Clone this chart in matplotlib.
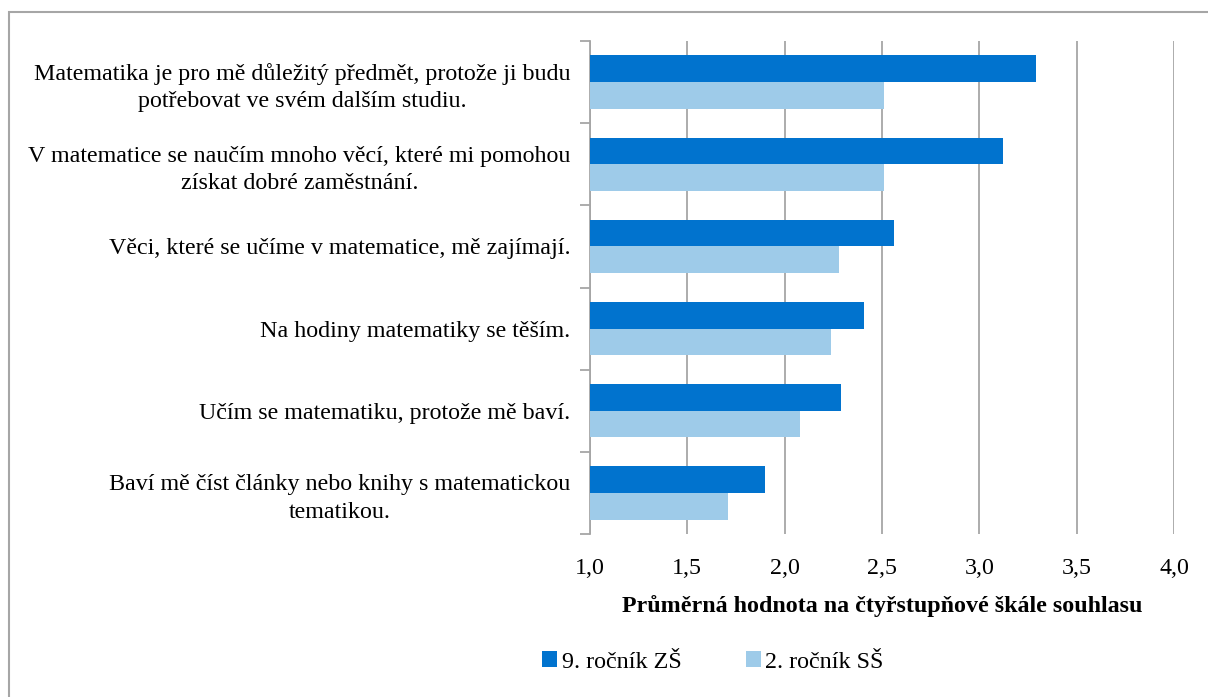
import matplotlib.pyplot as plt
from matplotlib.patches import Rectangle

# Survey statements (top to bottom) and mean agreement on a 1-4 scale
statements = [
    "Matematika je pro mě důležitý předmět, protože ji budu\npotřebovat ve svém dalším studiu.",
    "V matematice se naučím mnoho věcí, které mi pomohou\nzískat dobré zaměstnání.",
    "Věci, které se učíme v matematice, mě zajímají.",
    "Na hodiny matematiky se těším.",
    "Učím se matematiku, protože mě baví.",
    "Baví mě číst články nebo knihy s matematickou\ntematikou.",
]
zs9 = [3.29, 3.12, 2.56, 2.41, 2.29, 1.90]
ss2 = [2.51, 2.51, 2.28, 2.24, 2.08, 1.71]
series_names = ["9. ročník ZŠ", "2. ročník SŠ"]
x_ticks = [1.0, 1.5, 2.0, 2.5, 3.0, 3.5, 4.0]

dark = "#0173CE"
light = "#9ECBE9"
grey = "#A6A6A6"
fs = 17.3

plt.rcParams["font.family"] = ["Liberation Serif", "DejaVu Serif"]

fig = plt.figure(figsize=(12.08, 6.97), dpi=100)
ax = fig.add_axes([590 / 1208, 1 - 534 / 697, 584 / 1208, 493 / 697])

pos = list(range(len(statements)))
h = 0.325
b1 = ax.barh([p - h / 2 for p in pos], zs9, height=h, color=dark,
             label=series_names[0], zorder=3)
b2 = ax.barh([p + h / 2 for p in pos], ss2, height=h, color=light,
             label=series_names[1], zorder=3)

ax.set_xlim(1, 4)
ax.set_ylim(len(statements) - 0.5, -0.5)
ax.set_xticks(x_ticks)
ax.set_xticklabels([f"{t:.1f}".replace(".", ",") for t in x_ticks], fontsize=fs)
ax.tick_params(axis="x", length=0, pad=17)
ax.xaxis.grid(True, color=grey, linewidth=1.3, zorder=0)

ax.set_yticks(pos)
ax.set_yticklabels(statements, fontsize=fs, multialignment="center", linespacing=1.4)
ax.tick_params(axis="y", which="major", length=0, pad=14)
ax.set_yticks([p - 0.5 for p in pos] + [len(pos) - 0.5], minor=True)
ax.tick_params(axis="y", which="minor", length=7, width=1.3, color=grey)

for s in ["top", "right", "bottom"]:
    ax.spines[s].set_visible(False)
ax.spines["left"].set_color(grey)
ax.spines["left"].set_linewidth(1.3)

ax.set_xlabel("Průměrná hodnota na čtyřstupňové škále souhlasu",
              fontsize=fs, fontweight="bold", labelpad=12)

fig.legend(handles=[b1, b2], loc="center", bbox_to_anchor=(713 / 1208, 1 - 662 / 697),
           ncol=2, frameon=False, fontsize=fs, handlelength=0.6, handleheight=0.6,
           handletextpad=0.2, columnspacing=2.7)

# chart frame, only its top and left edges fall inside the image
fig.patches.append(Rectangle((9 / 1208, -0.05), 1.1, 1 - 12 / 697 + 0.05,
                             transform=fig.transFigure, fill=False,
                             edgecolor=grey, linewidth=1.5))

fig.savefig("out.png", dpi=100)
